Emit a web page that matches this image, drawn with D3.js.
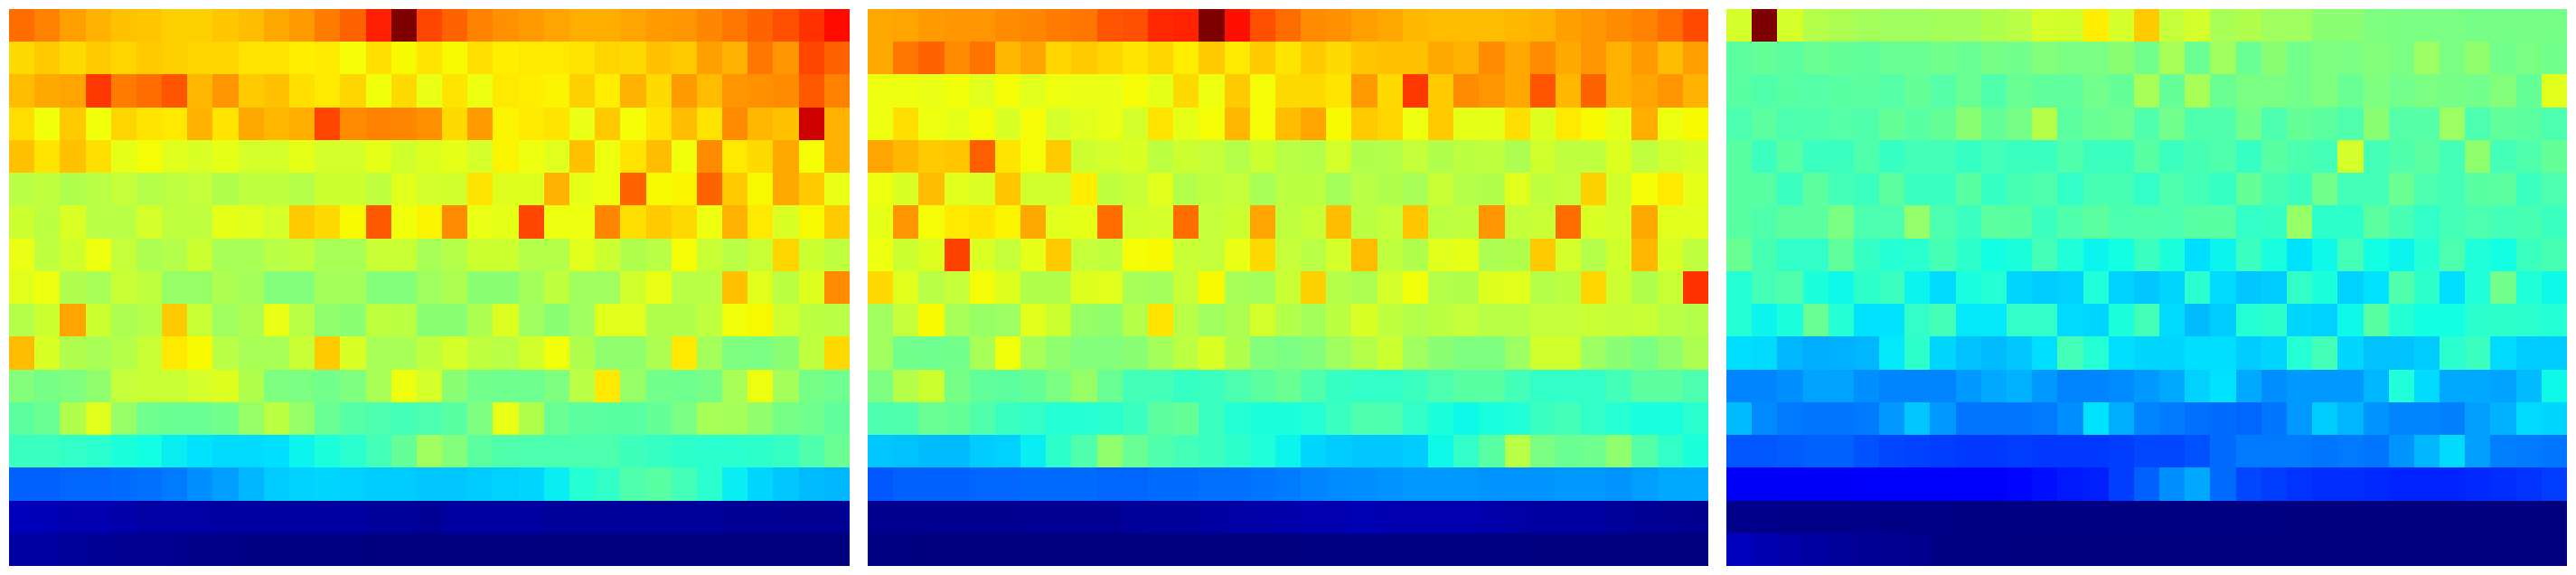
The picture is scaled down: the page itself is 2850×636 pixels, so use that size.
<!DOCTYPE html>
<html><head><meta charset="utf-8">
<script src="https://cdn.jsdelivr.net/npm/d3@7"></script>
<style>html,body{margin:0;padding:0;background:#fff}svg{display:block}</style>
</head><body><svg id="c" width="2850" height="636"></svg>
<script>
const panelA = [
[79,77,74,72,70.5,70,69,69,70,71,73,74.5,77.5,80,87,100,83,80,77,75.5,74.5,73.5,72.5,72.5,73.5,74.5,75,76.5,78,80,82,85,89],
[68,69.5,68,69.5,68.5,69.5,69,68.5,68.5,67,67,66,66.5,64.5,67.5,65,67,65,67.5,66,66.5,66.5,67,68.5,68,70.5,69.5,74,72,78,75,83,80],
[71,73,73.5,84.5,77.5,79,81.5,71.5,75,69.5,70.5,67.5,66.5,68.5,64,68,63,67,63.5,66.5,66,65.5,69,66,72,68,74.5,71,75,75.5,76,81,77],
[67.5,64,69.5,64,68.5,67,66.5,72,67,73,71.5,72.5,83,76,77,76.5,75.5,68,74.5,65.5,66.5,67,63,69.5,64.5,67,71,67,76,71.5,70.5,94,72],
[70.5,67,70.5,67.5,62.5,64.5,62,61,62.5,60.5,60.5,62.5,60.5,60.5,62.5,60,61.5,62.5,60.5,65.5,63.5,62,70.5,63.5,67,71,64,76,66.5,68,73,64.5,72],
[57,58,56,57,58.5,56.5,57.5,58.5,56,58,58,56.5,59.5,59.5,58,62,60.5,60,67,61.5,61.5,72,62.5,63.5,80,65,65.5,80,69.5,65,73,69.5,63],
[59.5,57.5,61,57,57,60.5,58,58,62.5,62,60.5,69.5,68,65,81,64,65.5,76,63,62.5,83,63.5,63.5,76.5,67.5,69.5,68,63.5,72,66.5,61,65,69.5],
[63,58,60,63.5,58.5,55.5,56.5,59.5,55,55,57,58,55,55,59,59,55,56.5,59.5,59.5,56.5,56.5,62,59.5,56,57,64.5,59,57,59,68.5,59.5,58],
[62,63.5,56,55,59,58,53,53,55.5,54.5,50.5,50.5,54.5,54.5,50.5,50.5,54,55.5,51.5,51.5,54.5,58,54,54,60,63,57,57,70.5,62,57.5,61.5,76],
[56.5,59.5,73.5,59.5,55.5,56.5,69.5,59,54,55.5,63,57,52,51.5,58,57.5,51.5,51.5,55.5,61.5,54,51.5,54,62,62,56,56,58,64,65,60,57.5,57],
[71,61,56,55,56.5,59,66.5,65,57,55,55,59,69.5,61,55,55,58,60.5,58,57,60,64,56,52,52,55.5,66.5,54.5,50,49.5,51.5,58,68],
[50.5,49,50,52,58.5,59,59,60.5,61.5,56,50,49.5,48.5,50,55,63.5,60.5,51.5,48.5,48,48,50,57,66.5,53,48.5,48,49,55,63.5,54.5,49,48],
[46,47.5,56,62,53,48,47.5,47.5,48.5,53,57.5,53,47.5,45,44,43,44,45.5,50,63,56,47.5,46,45.5,45.5,47,49.5,55,54.5,52,49,48,46.5],
[42,42,41,40,38.5,37.5,36,35,34,34,34.5,36.5,38.5,40,43,47,54,50.5,46,44.5,44,44,44,44,42.5,41.5,40.5,40,40,40.5,41.5,44.5,47.5],
[22,22,22.5,22.5,23,23.5,24.5,26.5,28,30.5,32.5,33,33.5,33,32.5,32.5,32,32,32.5,33,33.5,36,39.5,41,44.5,45.5,43,40,36,33.5,32,31,30.5],
[5.2,5,4.2,4.2,3.8,3.2,3.2,3.2,2.8,2.8,2.8,2.8,2.8,2.8,2.4,2.4,2.1,2.8,2.8,2.8,2.8,2.4,2.4,2.4,2.4,2.4,2.4,2.4,2.1,2.1,1.8,1.8,1.8],
[2.8,2.8,2.4,2.1,1.8,1.8,1.5,0.8,0.8,0.5,0.5,0.5,0.5,0.5,0.2,0.2,0,0.2,0.2,0.2,0.2,0.2,0.2,0.2,0.2,0.1,0.1,0.1,0.1,0,0,0,0]
];
const panelB = [
[73,73.5,74.5,75,75,76,76.5,77.5,78,81.5,82,86,86.5,100,88.5,82,79,76,75.5,74,73,71.5,71,71,71,71.5,72,74,75,76,77,79,82.5],
[73,78,80,76,78.5,71.5,73.5,68.5,69.5,68.5,67,68.5,66,69.5,66.5,69.5,67,69.5,68,70,70.5,70.5,73,72,76,73,76,73,75,72,74.5,71,74],
[63.5,63.5,63,64,62,64.5,62,63.5,63,63,64.5,62.5,68,63.5,69.5,64.5,68,68,67,74.5,68,84.5,69.5,76,75,73,81.5,71.5,80,72,73.5,75,72],
[63.5,67.5,63.5,62.5,64.5,61,64.5,60.5,62,63,60.5,67,62.5,64.5,71.5,64.5,71,73.5,65,69.5,68.5,63.5,69.5,62.5,62.5,67.5,61.5,66.5,65,62.5,72.5,63.5,65],
[73.5,71.5,69.5,70,80.5,67,64.5,69.5,59.5,60.5,61,57.5,59.5,58.5,56.5,59.5,57,56.5,60.5,56,56.5,58.5,56,57.5,58,55.5,60,58,58,61.5,58,60,61],
[63.5,61,71,62,61,70,60,60,66,58,59,62,56.5,58,58.5,55,57.5,57.5,54.5,57,56,55,59,56.5,56,62,58,58.5,69,60,64.5,66.5,62.5],
[62.5,75,64.5,66.5,67,65.5,73,62,62.5,79,60,60.5,79,58.5,59.5,73.5,58,59,71,57.5,58.5,70,57.5,58,75,58.5,59,79,61,60.5,73,62,62],
[63.5,59.5,61.5,83.5,61,58.5,62.5,69.5,58.5,58,64.5,65,59,58.5,63,68,58.5,57,60.5,71,58,56,62,62.5,55.5,56,69.5,60.5,56.5,60,71.5,61,58],
[68,62,57,58.5,64.5,61.5,56,56,61.5,62,55,54.5,59,65,55,54.5,59,69,56.5,55.5,60.5,64,56.5,56,61.5,62,56.5,57.5,68.5,59.5,56,59,85],
[54,58.5,65,55,53,53.5,62,59.5,53,52,56.5,67,57,54,55.5,60.5,56.5,54.5,57.5,61,58,56.5,57.5,58.5,57,57,58.5,58.5,59,58.5,59,57,56.5],
[54,48.5,48,48.5,55,64,55,52,50.5,50.5,51.5,54.5,57.5,61,56,50.5,49.5,50.5,54,56.5,59.5,54,51.5,50,50,53.5,60,60,53.5,51.5,49.5,52,55.5],
[50,56.5,59.5,49,46.5,46,47,49.5,53,47.5,43,43,41.5,42,44,46,47.5,44.5,41.5,41,41,42,44,45.5,45.5,43,41,41,41,43,46,46,44],
[44,44.5,47.5,47,44.5,42,41,39.5,39.5,40,42,46,47,42,39.5,38.5,38.5,39.5,42,44.5,44,41,38.5,37,38,39,42,43,41,39.5,38,38,40],
[32,31.5,31,31,32.5,33,36,40.5,44.5,52,47.5,44.5,43,42,40.5,39,36.5,33.5,32.5,32,32,32.5,37,41,45.5,57,49.5,47.5,48,52,45,41,38.5],
[21,22,22,22,22.5,22.5,23,23,23,22.5,22.5,23,23,23.5,23.5,24,24.5,25.5,26,26.5,27,27.5,27.5,27.5,27,27,27,27.5,27.5,27,28,29,29],
[1.5,1.5,1.5,1.5,1.5,1.5,1.8,1.8,1.8,1.8,2.4,2.4,2.4,2.8,3.2,3.5,3.8,4.2,4.2,4.6,4.2,4.2,4.2,4.2,3.8,3.2,2.8,2.8,2.8,2.4,2,1.8,1.5],
[0.3,0.3,0.2,0.2,0.1,0.1,0.1,0.1,0.1,0,0,0.1,0.1,0.1,0.1,0.1,0.2,0.5,0.5,0.5,0.4,0.4,0.4,0.3,0.3,0.3,0.2,0.2,0.2,0.1,0.1,0,0]
];
const panelC = [
[60.5,100,60.5,56.5,55.5,54.5,54,54,54.5,54.5,56,57,60.5,60,66,60.5,69.5,58.5,60.5,55,56,54,54,51.5,51.5,50,49.5,49.5,49.5,49,49,49,49],
[46,47,46,47.5,47,46.5,47.5,47.5,48.5,47.5,49,48.5,50.5,49.5,49.5,51.5,48.5,55,47.5,54,47.5,51.5,48.5,50,49.5,50.5,49.5,53.5,49.5,52,48.5,49.5,48.5],
[45.5,44.5,45.5,45,45.5,46,45,47,45,47.5,44.5,47.5,46.5,46.5,48.5,47,55,47,55,47.5,49.5,49.5,48.5,50,47.5,50,48.5,49.5,49,48.5,50.5,47,62],
[44,46,44,44.5,45,44.5,47,45.5,47,51.5,47,49,56.5,46,47.5,48,44.5,48.5,44.5,44.5,48.5,44,47,46,44.5,51.5,45,45,53.5,44,46.5,46,44],
[45.5,42,45.5,42,42,44.5,41.5,43,43,41.5,43,42,42,44.5,42,42,45.5,42,43.5,44.5,41.5,45.5,44,43,60.5,43,44.5,46,43,52,43,44.5,47],
[45.5,45.5,42,46,43,42,46,42,42,45.5,41.5,43.5,44.5,41,43.5,43.5,41,44.5,43,41.5,47,43.5,42,48.5,43,43,47.5,44,43,45.5,46,42,44],
[45.5,44.5,46,46,49.5,44,44,52.5,44,42,46,45.5,42,44.5,46,44,44.5,44,45.5,45.5,41,41.5,53,40.5,40.5,46,43.5,41,43,44,43,43.5,42],
[47.5,43.5,41,41,46.5,41.5,39.5,40,43.5,40.5,37.5,38.5,43,39,36.5,37.5,42,38.5,34.5,36.5,42,38,35,37,43,37.5,36.5,39.5,44,39,37.5,42,43.5],
[39.5,43,44.5,38.5,37,40.5,42,36.5,34,38,39.5,33.5,32.5,33,39,33,32,33.5,40,34,32,32.5,41,38.5,33,35,44.5,40.5,34.5,39,48.5,39,37],
[39.5,36.5,38.5,47.5,39.5,35,35,41,43,35.5,35.5,41,41,34,33.5,38.5,43,34,31,32.5,39.5,40.5,33.5,33,37,45.5,39.5,37.5,37.5,40,40.5,40,39.5],
[34.5,34,30.5,29.5,30,30.5,35.5,40.5,33.5,31.5,31,32,34.5,43,39.5,34.5,33.5,33.5,34.5,34.5,32.5,33.5,39.5,43,33.5,31.5,31.5,32.5,40,42,34,32.5,32.5],
[25.5,25.5,26.5,28.5,28.5,26.5,25.5,25.5,25.5,27.5,29,30,27.5,25.5,25.5,26,27.5,29,33,35,29,26.5,27.5,27.5,27.5,30.5,39,34,29,29,28.5,31,37],
[31,26,24.5,24,24,24.5,27.5,32,27.5,24,24,24,24.5,26.5,35,29.5,25.5,24.5,23.5,23,22.5,24,27.5,32.5,30.5,27,25.5,25.5,25,28,30,34,33.5],
[21,21,21.5,22,22,20.5,19.5,19,18.5,18,18,18.5,18,18,18,18.5,19.5,19.5,20.5,23,24.5,24.5,24.5,24,24.5,24,27,30.5,34,28,25,24.5,24],
[10.5,10.5,10.5,10.5,10.5,11,11.5,12,12,12,12,13,14,15,15.5,18.5,22,26.5,29,23,19.5,18.5,17.5,17,17,16.5,16,16,16,16.5,17,17.5,18.5],
[1,1,0.9,0.9,0.8,0.8,0.7,0.6,0.6,0.5,0.5,0.5,0.5,0.4,0.4,0.4,0.3,0.3,0.3,0.3,0.3,0.3,0.2,0.2,0.2,0.2,0.2,0.2,0.2,0.2,0.2,0.1,0.1],
[5.5,4.5,3.5,2.8,2.4,2,1.8,1.5,0.5,0.5,0.5,0.2,0.2,0.2,0,0,0,0,0,0,0,0,0,0,0,0,0,0,0,0,0,0,0]
];
const panels = [panelA, panelB, panelC];
const jetStops = [0,11,12.5,34,35,37.5,50,64,65,66,89,91,100];
const jetColors = ["#00007f","#0000ff","#0000ff","#00dbff","#00e3fe","#13ffe3","#7fff7f","#f1ff0b","#f7f900","#ffee00","#ff0a00","#f50000","#7f0000"];

const width = 2850, height = 636, panelWidth = 930, gap = 20, left = 10, top_ = 10, bottom = 626;
const color = d3.scaleLinear().domain(jetStops).range(jetColors).interpolate(d3.interpolateRgb).clamp(true);
const svg = d3.select("#c");
const rowsIdx = d3.range(panelA.length), colsIdx = d3.range(panelA[0].length);
const y = d3.scaleBand().domain(rowsIdx).range([top_, bottom]);

panels.forEach((grid, p) => {
  const x0 = left + p * (panelWidth + gap);
  const x = d3.scaleBand().domain(colsIdx).range([x0, x0 + panelWidth]);
  const g = svg.append("g").attr("shape-rendering", "crispEdges");
  g.selectAll("g").data(grid).join("g").each(function (row, r) {
    d3.select(this).selectAll("rect").data(row).join("rect")
      .attr("x", (d, c) => x(c)).attr("y", y(r))
      .attr("width", x.bandwidth()).attr("height", y.bandwidth())
      .attr("fill", d => color(d));
  });
});
</script></body></html>
